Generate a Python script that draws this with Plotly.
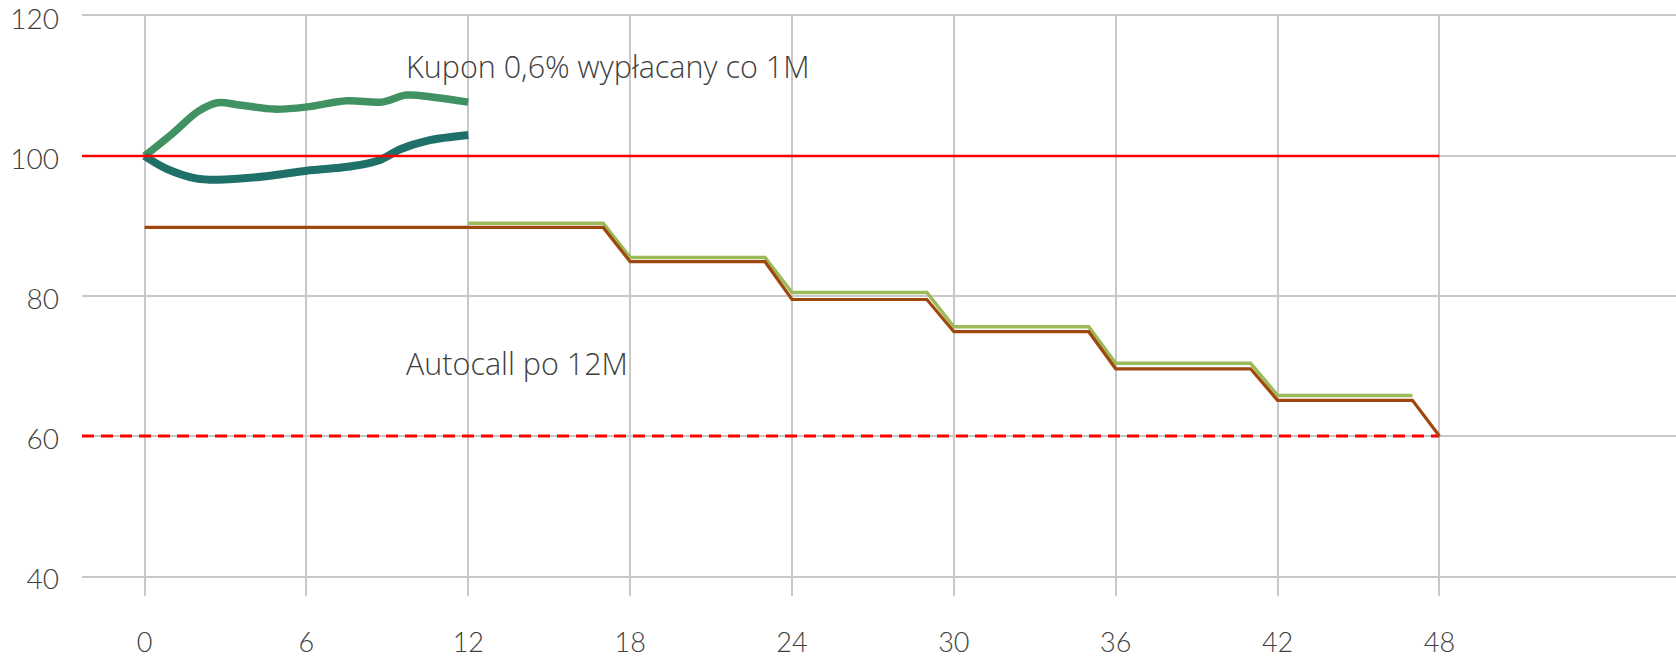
import plotly.graph_objects as go

# oś X: miesiące, oś Y: poziom (%)
X_TICKS = [0, 6, 12, 18, 24, 30, 36, 42, 48]
Y_TICKS = [40, 60, 80, 100, 120]
X_RANGE = [-2.32, 56.77]
Y_RANGE = [40, 120]

# przykładowe ścieżki kursu (pierwsze 12M)
path_up_x = [0, 1, 2, 2.7, 3.5, 4.8, 6, 7.5, 8.8, 9.7, 10.7, 12]
path_up_y = [100, 103.1, 106.4, 107.6, 107.3, 106.7, 107.0, 107.9, 107.7, 108.7, 108.4, 107.7]

path_down_x = [0, 0.8, 1.9, 2.7, 4.5, 6, 7.6, 8.7, 9.5, 10.5, 12]
path_down_y = [100, 98.2, 96.8, 96.6, 97.1, 97.9, 98.5, 99.4, 101.0, 102.2, 103.0]

# bariery
coupon_barrier_x = [X_RANGE[0], 48]
coupon_barrier_y = [100, 100]
capital_barrier_x = [X_RANGE[0], 48]
capital_barrier_y = [60, 60]

# poziom autocall (malejący co 6M)
autocall_x = [12, 17, 18, 23, 24, 29, 30, 35, 36, 41, 42, 47]
autocall_y = [90.4, 90.4, 85.5, 85.5, 80.5, 80.5, 75.6, 75.6, 70.4, 70.4, 65.8, 65.8]

barrier_x = [0, 17, 18, 23, 24, 29, 30, 35, 36, 41, 42, 47, 48]
barrier_y = [89.8, 89.8, 84.9, 84.9, 79.5, 79.5, 74.9, 74.9, 69.6, 69.6, 65.1, 65.1, 60]

COLORS = {
    'up': '#419262',
    'down': '#1f7068',
    'red': '#ff0000',
    'autocall': '#9bbb59',
    'barrier': '#9e480e',
    'grid': '#c8c8c8',
    'text': '#404040',
}

fig = go.Figure()

fig.add_trace(go.Scatter(
    x=path_up_x, y=path_up_y, mode='lines',
    line=dict(color=COLORS['up'], width=7.5, shape='spline', smoothing=1.0),
))
fig.add_trace(go.Scatter(
    x=path_down_x, y=path_down_y, mode='lines',
    line=dict(color=COLORS['down'], width=8, shape='spline', smoothing=1.0),
))
fig.add_trace(go.Scatter(
    x=coupon_barrier_x, y=coupon_barrier_y, mode='lines',
    line=dict(color=COLORS['red'], width=2.5),
))
fig.add_trace(go.Scatter(
    x=capital_barrier_x, y=capital_barrier_y, mode='lines',
    line=dict(color=COLORS['red'], width=2.8, dash='12px,7px'),
))
fig.add_trace(go.Scatter(
    x=autocall_x, y=autocall_y, mode='lines',
    line=dict(color=COLORS['autocall'], width=3.5),
))
fig.add_trace(go.Scatter(
    x=barrier_x, y=barrier_y, mode='lines',
    line=dict(color=COLORS['barrier'], width=3.2),
))

fig.add_annotation(
    x=9.62, y=112.8, text="Kupon 0,6% wypłacany co 1M",
    showarrow=False, xanchor='left', yanchor='middle',
    font=dict(family="Open Sans", size=30.5, color=COLORS['text'], weight=300),
)
fig.add_annotation(
    x=9.62, y=70.5, text="Autocall po 12M",
    showarrow=False, xanchor='left', yanchor='middle',
    font=dict(family="Open Sans", size=30.5, color=COLORS['text'], weight=300),
)

fig.update_xaxes(
    range=X_RANGE, tickvals=X_TICKS, automargin=False,
    showgrid=True, gridcolor=COLORS['grid'], gridwidth=2,
    zeroline=False, showline=True, mirror=True,
    linecolor=COLORS['grid'], linewidth=2,
    ticks='outside', ticklen=18, tickwidth=2, tickcolor=COLORS['grid'],
    ticklabelstandoff=24,
    tickfont=dict(family="Lato", size=27, color=COLORS['text'], weight=300),
)
fig.update_yaxes(
    range=Y_RANGE, tickvals=Y_TICKS, automargin=False,
    showgrid=True, gridcolor=COLORS['grid'], gridwidth=2,
    zeroline=False, showline=False, ticks='',
    ticklabelstandoff=22, ticklabelshift=3, ticklabeloverflow='allow',
    tickfont=dict(family="Lato", size=28, color=COLORS['text'], weight=300),
)

fig.update_layout(
    width=1676, height=659,
    margin=dict(l=82, r=0, t=16, b=83),
    plot_bgcolor='white', paper_bgcolor='white',
    showlegend=False,
)

# bez domyślnego marginesu strony (8px) i bez paska narzędzi
fig.write_html(
    "out.html",
    config={'displayModeBar': False},
    post_script="document.body.style.margin='0';",
)
